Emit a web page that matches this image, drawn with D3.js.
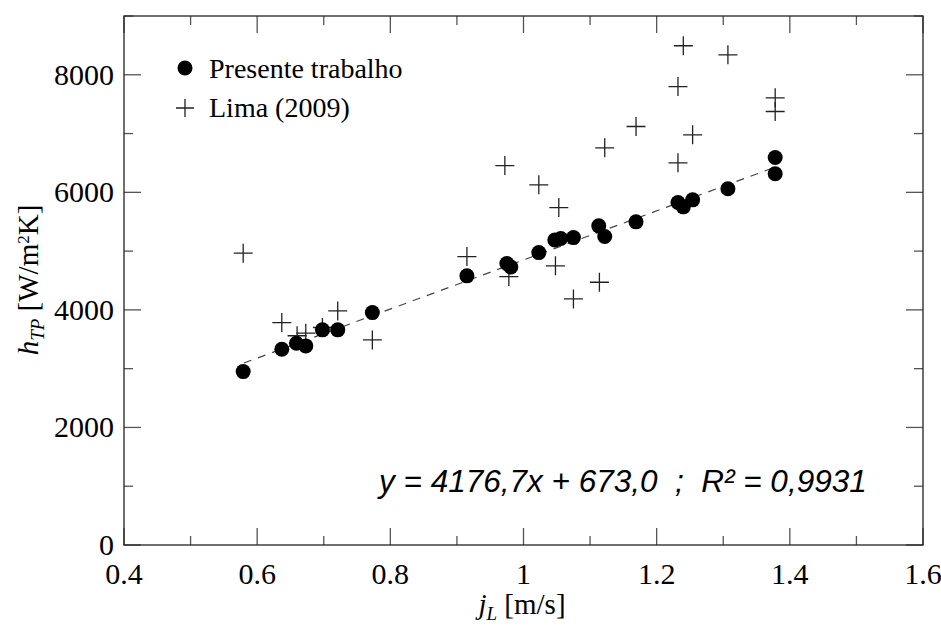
<!DOCTYPE html>
<html>
<head>
<meta charset="utf-8">
<script src="https://cdn.jsdelivr.net/npm/d3@7"></script>
<style>
  body { margin: 0; background: #fff; }
  svg { display: block; }
</style>
</head>
<body>
<svg id="chart"></svg>
<script>
// Presente trabalho (filled circles)
const presenteJL = [0.579, 0.637, 0.659, 0.673, 0.698, 0.721, 0.773, 0.915, 0.975, 0.981,
    1.023, 1.047, 1.056, 1.075, 1.113, 1.122, 1.169, 1.232, 1.240, 1.254, 1.307, 1.378, 1.378]
const presenteH = [2950, 3331, 3433, 3387, 3660, 3660, 3954, 4579, 4790, 4730,
    4975, 5190, 5215, 5230, 5430, 5248, 5498, 5826, 5753, 5872, 6060, 6315, 6592]

// Lima (2009) (crosses)
const limaJL = [0.579, 0.637, 0.660, 0.673, 0.698, 0.721, 0.773, 0.915, 0.972, 0.978,
    1.023, 1.048, 1.053, 1.075, 1.114, 1.122, 1.169, 1.232, 1.232, 1.240, 1.254, 1.307, 1.378, 1.378]
const limaH = [4965, 3784, 3560, 3603, 3700, 3983, 3489, 4907, 6456, 4567,
    6128, 4749, 5741, 4187, 4470, 6757, 7120, 6502, 7800, 8494, 6979, 8340, 7608, 7375]

// linear fit shown on the chart
const fitSlope = 4176.7
const fitIntercept = 673.0
const fitRange = [0.58, 1.38]

const xTicks = [0.4, 0.6, 0.8, 1, 1.2, 1.4, 1.6]
const xMinor = [0.5, 0.7, 0.9, 1.1, 1.3, 1.5]
const yTicks = [0, 2000, 4000, 6000, 8000]
const yMinor = [1000, 3000, 5000, 7000, 9000]

const width = 941
const height = 626
const margin = { left: 124, right: 18, top: 16, bottom: 81 }

const svg = d3.select("#chart")
    .attr("width", width)
    .attr("height", height)

const xScale = d3.scaleLinear()
    .domain([0.4, 1.6])
    .range([margin.left, width - margin.right])

const yScale = d3.scaleLinear()
    .domain([0, 9000])
    .range([height - margin.bottom, margin.top])

const serif = "'Times New Roman', 'Liberation Serif', Times, serif"
const tickColor = "#555"
const majorLen = 17
const minorLen = 9

function drawTicks() {
    const g = svg.append("g")
    const x0 = xScale.range()[0], x1 = xScale.range()[1]
    const y0 = yScale.range()[0], y1 = yScale.range()[1]

    const xAll = xTicks.map(v => ({ v, len: majorLen })).concat(xMinor.map(v => ({ v, len: minorLen })))
    const yAll = yTicks.map(v => ({ v, len: majorLen })).concat(yMinor.map(v => ({ v, len: minorLen })))

    xAll.forEach(t => {
        g.append("line").attr("x1", xScale(t.v)).attr("x2", xScale(t.v))
            .attr("y1", y0).attr("y2", y0 - t.len)
        g.append("line").attr("x1", xScale(t.v)).attr("x2", xScale(t.v))
            .attr("y1", y1).attr("y2", y1 + t.len)
    })
    yAll.forEach(t => {
        g.append("line").attr("y1", yScale(t.v)).attr("y2", yScale(t.v))
            .attr("x1", x0).attr("x2", x0 + t.len)
        g.append("line").attr("y1", yScale(t.v)).attr("y2", yScale(t.v))
            .attr("x1", x1).attr("x2", x1 - t.len)
    })
    g.selectAll("line").attr("stroke", tickColor).attr("stroke-width", 1.3)

    // frame
    svg.append("rect")
        .attr("x", x0).attr("y", y1)
        .attr("width", x1 - x0).attr("height", y0 - y1)
        .attr("fill", "none").attr("stroke", "#222").attr("stroke-width", 1.3)

    // tick labels
    svg.append("g").selectAll("text").data(xTicks).enter().append("text")
        .attr("x", d => xScale(d))
        .attr("y", y0 + 39)
        .attr("text-anchor", "middle")
        .style("font-family", serif).style("font-size", "30px")
        .text(d => d)

    svg.append("g").selectAll("text").data(yTicks).enter().append("text")
        .attr("x", x0 - 10)
        .attr("y", d => yScale(d) + 10)
        .attr("text-anchor", "end")
        .style("font-family", serif).style("font-size", "30px")
        .text(d => d)
}

function drawFit() {
    const line = d3.line()
        .x(d => xScale(d))
        .y(d => yScale(fitSlope * d + fitIntercept))
    svg.append("path")
        .datum(fitRange)
        .attr("d", line)
        .attr("fill", "none")
        .attr("stroke", "#444")
        .attr("stroke-width", 1.2)
        .attr("stroke-dasharray", "8,7")
}

function drawPoints() {
    const lima = limaJL.map((x, i) => ({ x, y: limaH[i] }))
    const pres = presenteJL.map((x, i) => ({ x, y: presenteH[i] }))

    svg.append("g").selectAll("path").data(lima).enter().append("path")
        .attr("d", d => `M${xScale(d.x) - 9.5},${yScale(d.y)}h19M${xScale(d.x)},${yScale(d.y) - 9.5}v19`)
        .attr("stroke", "#222")
        .attr("stroke-width", 1.3)
        .attr("fill", "none")

    svg.append("g").selectAll("circle").data(pres).enter().append("circle")
        .attr("cx", d => xScale(d.x))
        .attr("cy", d => yScale(d.y))
        .attr("r", 7.5)
        .attr("fill", "#000")
}

function drawLegend() {
    const g = svg.append("g").style("font-family", serif).style("font-size", "28px")
    g.append("circle").attr("cx", 185).attr("cy", 68).attr("r", 7.5).attr("fill", "#000")
    g.append("text").attr("x", 209).attr("y", 78).text("Presente trabalho")
    g.append("path").attr("d", "M176,108h18M185,99v18")
        .attr("stroke", "#222").attr("stroke-width", 1.3)
    g.append("text").attr("x", 209).attr("y", 117).text("Lima (2009)")
}

function drawLabels() {
    const xl = svg.append("text")
        .attr("x", 522).attr("y", 614)
        .attr("text-anchor", "middle")
        .style("font-family", serif).style("font-size", "29px")
    xl.append("tspan").style("font-style", "italic").text("j")
    xl.append("tspan").style("font-style", "italic").style("font-size", "19px").attr("dy", 6).text("L")
    xl.append("tspan").attr("dy", -6).text(" [m/s]")

    const yl = svg.append("text")
        .attr("transform", "translate(38,280) rotate(-90)")
        .attr("text-anchor", "middle")
        .style("font-family", serif).style("font-size", "29px")
    yl.append("tspan").style("font-style", "italic").text("h")
    yl.append("tspan").style("font-style", "italic").style("font-size", "19px").attr("dy", 6).text("TP")
    yl.append("tspan").attr("dy", -6).text(" [W/m")
    yl.append("tspan").style("font-size", "17px").attr("dy", -9).text("2")
    yl.append("tspan").attr("dy", 9).text("K]")

    svg.append("text")
        .attr("x", 379).attr("y", 492)
        .style("font-family", "'Liberation Sans', Arial, sans-serif")
        .style("font-style", "italic").style("font-size", "31.5px")
        .attr("xml:space", "preserve")
        .text("y = 4176,7x + 673,0  ;  R\u00b2 = 0,9931")
}

drawFit()
drawPoints()
drawTicks()
drawLegend()
drawLabels()
</script>
</body>
</html>
